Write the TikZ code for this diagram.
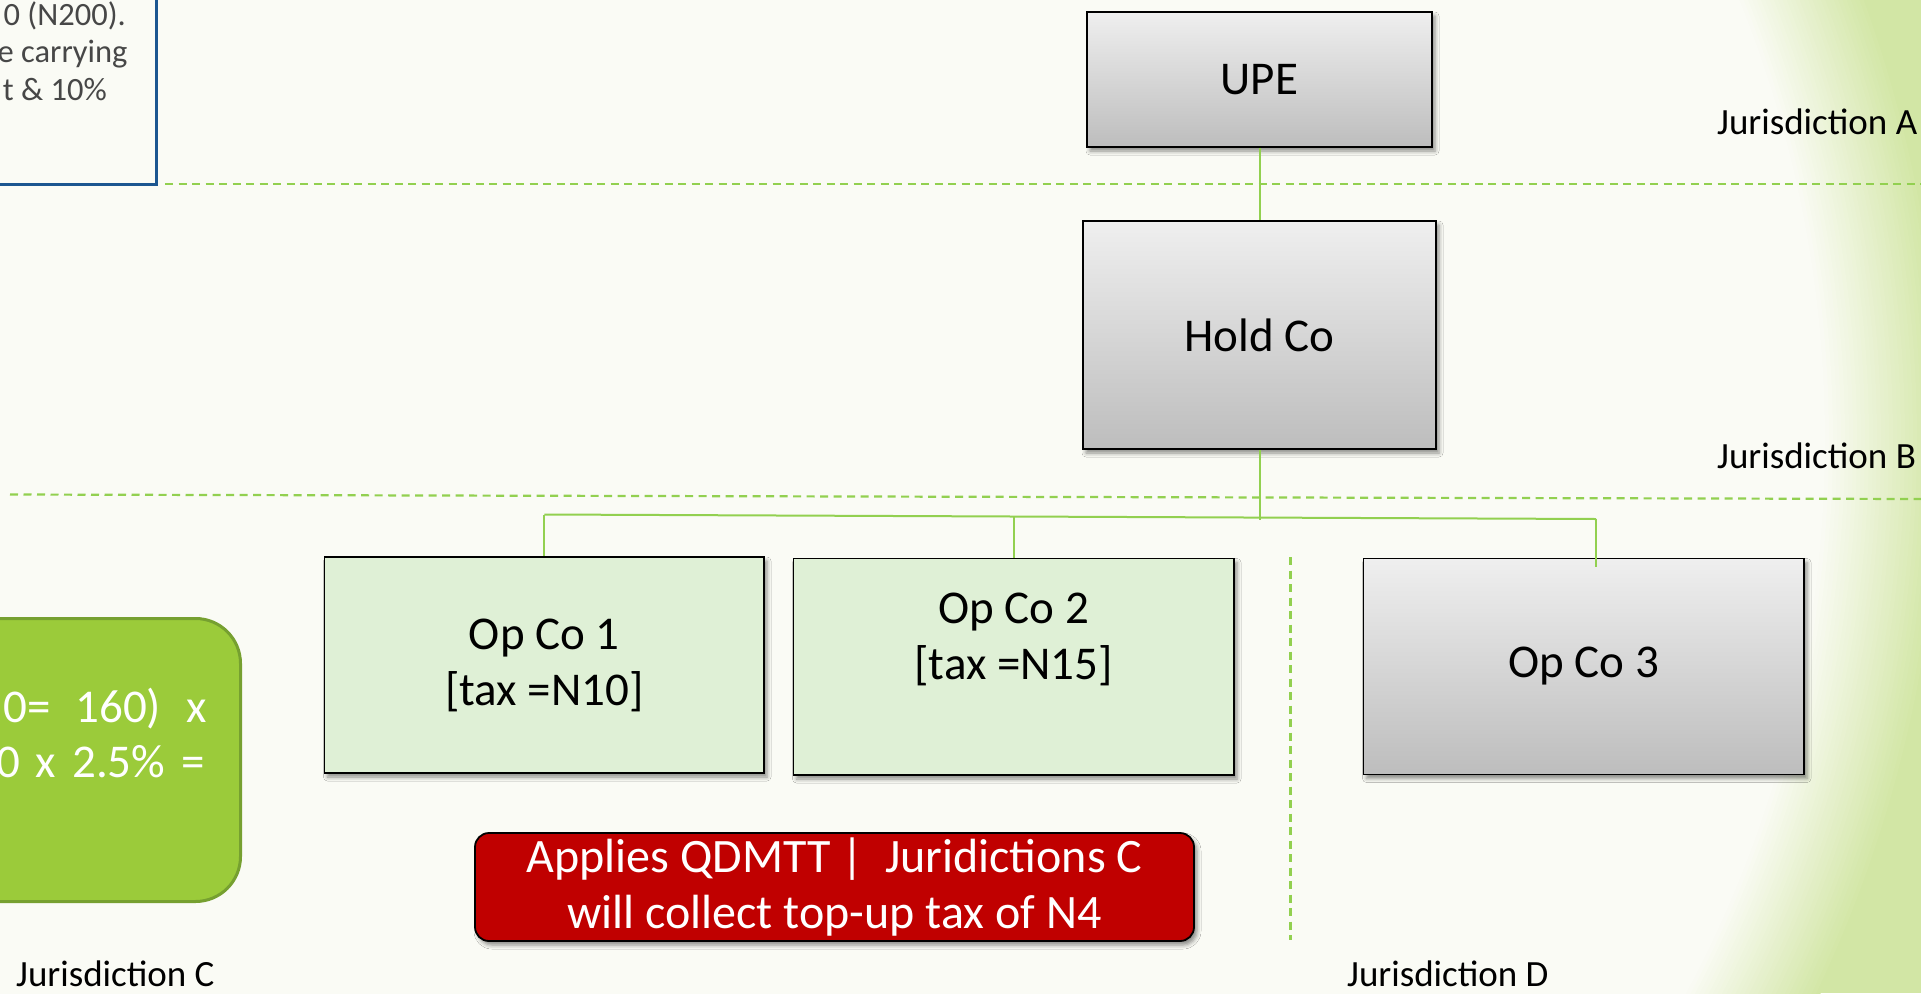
\documentclass[tikz,border=0pt]{standalone}
\usepackage{fontspec}
\setmainfont{Carlito}
\usetikzlibrary{shadows.blur}
\definecolor{bgcol}{HTML}{FAFBF5}
\definecolor{bggreen}{HTML}{D2E6A5}
\definecolor{boxtop}{HTML}{EFEFEF}
\definecolor{boxbot}{HTML}{BDBDBD}
\definecolor{opgreen}{HTML}{DFF0D6}
\definecolor{linegreen}{HTML}{92D050}
\definecolor{redfill}{HTML}{C00000}
\definecolor{limefill}{HTML}{9BCB3A}
\definecolor{limeborder}{HTML}{76A030}
\definecolor{bluebd}{HTML}{1C5690}
\definecolor{txtgray}{HTML}{474747}
\newcommand\bigtxt{\fontsize{47pt}{56pt}\selectfont}
\newcommand\redtxt{\fontsize{48pt}{56.5pt}\selectfont}
\newcommand\jurtxt{\fontsize{37pt}{44pt}\selectfont}
\newcommand\notetxt{\fontsize{32.5pt}{38pt}\selectfont}
\begin{document}
\begin{tikzpicture}[x=1pt,y=-1pt,
  conn/.style={draw=linegreen, line width=2pt},
  sepline/.style={draw=linegreen, line width=2.2pt, dash pattern=on 8pt off 5.5pt},
  boxshadow/.style={blur shadow={shadow xshift=3pt, shadow yshift=-4pt, shadow blur radius=4pt, shadow opacity=45}},
  graybox/.style={draw=black, line width=1.8pt, top color=boxtop, bottom color=boxbot, boxshadow, font=\bigtxt, align=center, inner sep=0pt},
  opbox/.style={draw=black, line width=1.8pt, fill=opgreen, boxshadow, font=\bigtxt, align=center, inner sep=0pt},
  redbox/.style={draw=black, line width=1.8pt, fill=redfill, rounded corners=14pt, boxshadow, font=\redtxt, text=white, align=center, inner sep=0pt},
  jur/.style={font=\jurtxt, text=black, anchor=base west, inner sep=0pt},
  note/.style={font=\notetxt, text=txtgray, anchor=base east, inner sep=0pt},
  limetxt/.style={font=\bigtxt, text=white, anchor=base east, inner sep=0pt},
]
\useasboundingbox (0,0) rectangle (1921,993);
\clip (0,0) rectangle (1921,993);
% background with green radial fade at the right
\fill[bggreen] (0,0) rectangle (1921,993);
\foreach \i in {0,...,29}{
  \pgfmathtruncatemacro\rr{1290-4*\i}
  \pgfmathtruncatemacro\pp{100-\i*10/3}
  \fill[bggreen!\pp!bgcol] (655,440) circle[radius=\rr pt];
}
\fill[bgcol] (655,440) circle[radius=1170pt];
% top-left note box (mostly off the page)
\draw[bluebd, line width=3pt, fill=bgcol] (-40,-40) rectangle (156.5,184);
\node[note] (n1) at (126,25) {0 (N200).};
\node[note] (n2) at (127.7,62) {e carrying};
\node[note] (n3) at (107,100.5) {t \& 10\%};
% green calculation box (mostly off the page)
\draw[limeborder, line width=3pt, fill=limefill, rounded corners=45pt] (-120,618.5) rectangle (240.5,901.5);
\node[limetxt] (g1) at (206.7,722) {0=\hspace{25pt}160)\hspace{25pt}x};
\node[limetxt] (g2) at (205,777) {0\hspace{16pt}x\hspace{16pt}2.5\%\hspace{16pt}=};
% jurisdiction separators
\coordinate (sa1) at (165,184);
\coordinate (sa2) at (1921,184);
\coordinate (sb1) at (10,494.5);
\coordinate (sb2) at (1921,499);
\coordinate (sv1) at (1290.5,557);
\coordinate (sv2) at (1290.5,940);
\draw[sepline] (sa1) -- (sa2);
\draw[sepline] (sb1) -- (sb2);
\draw[sepline] (sv1) -- (sv2);
% boxes
\node[graybox, minimum width=345pt, minimum height=135pt] (upe) at (1259.5,79.5) {UPE};
\node[graybox, minimum width=353pt, minimum height=228pt] (hold) at (1259.5,335) {Hold Co};
\node[opbox, minimum width=439.5pt, minimum height=216pt] (op1) at (544.25,665) {Op Co 1\\{[}tax =N10]};
\node[opbox, minimum width=440.5pt, minimum height=216.5pt] (op2) at (1013.75,666.75) {};
\node[font=\bigtxt, align=center, inner sep=0pt] (op2t) at (1013.75,639.5) {Op Co 2\\{[}tax =N15]};
\node[graybox, minimum width=440.5pt, minimum height=216pt] (op3) at (1583.75,666.5) {Op Co 3};
\node[redbox, minimum width=719pt, minimum height=108pt] (red) at (834.5,887) {Applies QDMTT |\ \ Juridictions C\\will collect top-up tax of N4};
% connectors
\coordinate (bh) at (1259.5,520);
\coordinate (b1) at (544.25,514.5);
\coordinate (b2) at (1013.75,516.5);
\coordinate (b3) at (1596,519);
\coordinate (e3) at (1596,567);
\draw[conn] (upe) -- (hold);
\draw[conn] (hold) -- (bh);
\draw[conn] (b1) -- (b3);
\draw[conn] (b1) -- (op1);
\draw[conn] (b2) -- (op2);
\draw[conn] (b3) -- (e3);
% jurisdiction labels
\node[jur] (ja) at (1717,134) {Jurisdiction A};
\node[jur] (jb) at (1717,468) {Jurisdiction B};
\node[jur] (jc) at (16,986) {Jurisdiction C};
\node[jur] (jd) at (1347,986) {Jurisdiction D};
\end{tikzpicture}
\end{document}
